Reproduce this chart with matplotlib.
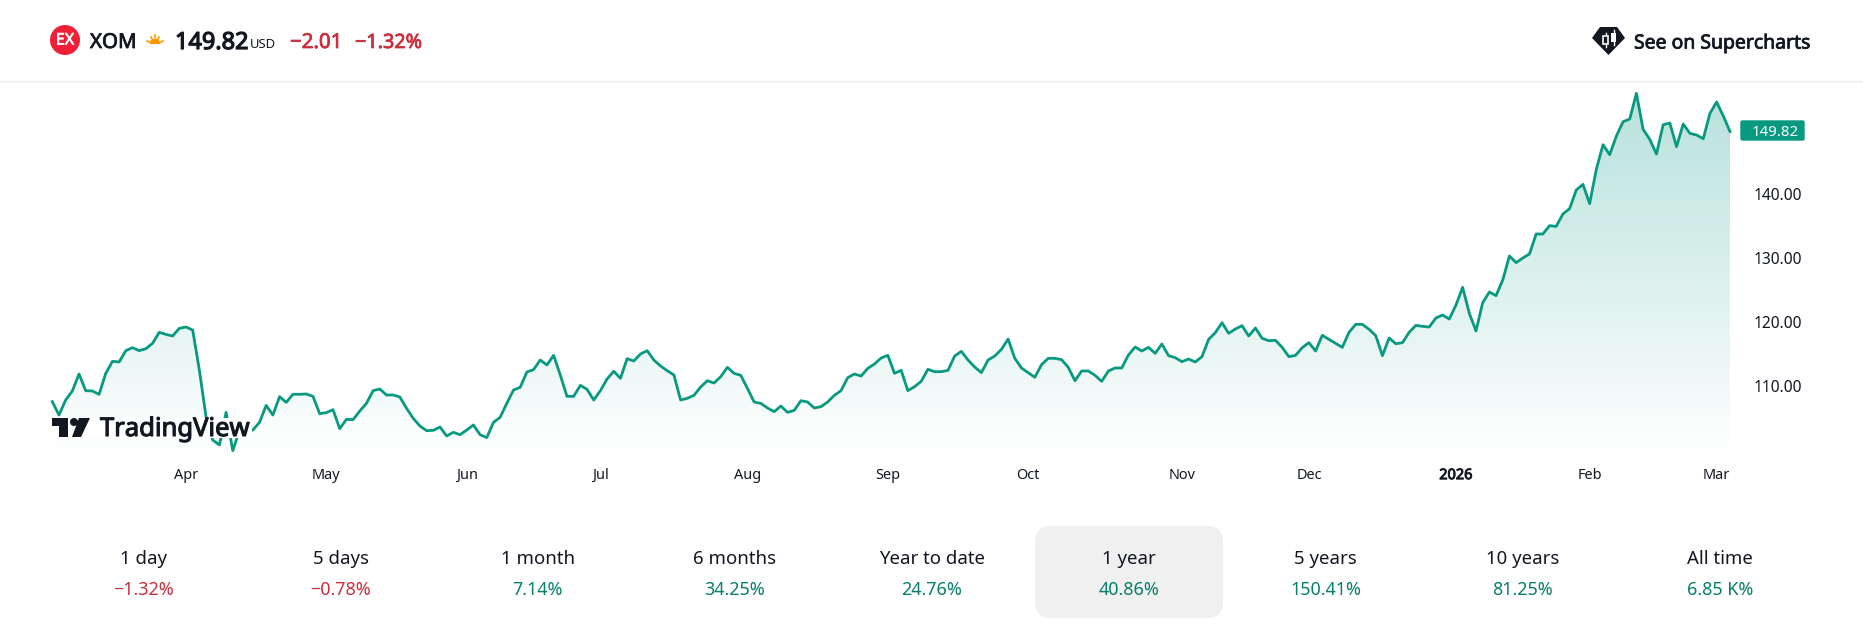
import numpy as np
import matplotlib
matplotlib.use("Agg")
import matplotlib.pyplot as plt
import matplotlib.patheffects as pe
from matplotlib.patches import FancyBboxPatch, Circle, Polygon, Rectangle, Wedge

plt.rcParams['font.family'] = ['Noto Sans', 'DejaVu Sans']

prices = [
 107.55,105.46,107.81,109.22,111.88,109.27,109.22,108.70,111.98,113.86,
 113.76,115.53,116.00,115.53,115.84,116.68,118.40,118.08,117.82,119.02,
 119.23,118.76,112.50,105.20,101.55,100.77,105.88,99.88,103.01,102.80,
 103.11,104.31,106.97,105.46,108.33,107.44,108.70,108.70,108.75,108.38,
 105.67,105.83,106.30,103.32,104.78,104.73,106.09,107.29,109.27,109.53,
 108.59,108.60,
 108.28,106.51,104.94,103.74,103.01,103.06,103.58,102.18,102.75,102.38,
 103.11,103.90,102.38,101.92,104.31,105.10,107.29,109.37,109.79,112.19,
 112.56,114.07,113.29,114.80,111.72,108.38,108.38,110.10,109.48,107.81,
 109.27,111.10,112.30,111.20,114.28,113.91,115.01,115.53,114.07,113.13,
 112.40,111.72,107.81,108.07,108.54,109.84,110.83,110.47,111.46,112.92,
 111.98,111.67,109.63,107.50,107.29,106.56,105.98,106.87,105.88,106.19,
 107.70,107.50,106.56,106.77,107.50,108.54,109.27,111.30,111.88,111.56,
 112.76,113.44,114.38,114.80,111.98,112.45,109.27,109.90,110.73,112.61,
 112.24,112.24,112.45,114.69,115.42,114.07,112.97,112.09,114.07,114.69,
 115.74,117.35,114.33,112.82,112.09,111.36,113.34,114.33,114.33,114.12,
 112.92,
 110.83,112.35,112.35,111.67,110.73,112.35,112.82,112.82,114.85,116.10,
 115.48,116.05,115.11,116.57,114.75,114.43,113.81,114.22,113.76,114.59,
 117.30,118.35,119.91,118.24,118.92,119.44,117.82,119.08,117.46,117.09,
 117.15,116.05,114.59,114.80,116.00,116.78,115.48,117.93,117.30,116.68,
 116.05,118.40,119.65,119.65,118.87,117.88,114.75,117.51,116.62,116.78,
 118.40,
 119.49,119.34,119.23,120.64,121.11,120.48,122.67,125.44,121.37,118.61,
 123.04,124.71,124.14,126.59,130.34,129.30,130.03,130.66,133.79,133.79,
 135.09,134.98,136.91,137.75,140.67,141.56,138.53,143.90,147.76,146.20,
 149.12,151.36,151.78,155.80,150.16,148.60,146.30,150.89,151.15,147.45,
 151.00,149.54,149.28,148.70,152.67,154.44,152.25,149.82,
]
month_idx = [20, 41, 62, 82, 104, 125, 146, 169, 188, 210, 230, 249]
month_labels = ['Apr', 'May', 'Jun', 'Jul', 'Aug', 'Sep', 'Oct', 'Nov', 'Dec', '2026', 'Feb', 'Mar']
price_ticks = [110, 120, 130, 140]
period_labels = ['1 day', '5 days', '1 month', '6 months', 'Year to date', '1 year', '5 years', '10 years', 'All time']
period_values = ['−1.32%', '−0.78%', '7.14%', '34.25%', '24.76%', '40.86%', '150.41%', '81.25%', '6.85 K%']

W, H = 1863, 627
GREEN = '#089981'
RED = '#CC2F3C'
DARKGREEN = '#077F6B'
INK = '#131722'
px = 0.72  # px to pt at dpi 100

def heavy(color, w=0.55):
    return [pe.withStroke(linewidth=w, foreground=color)]

fig = plt.figure(figsize=(W / 100, H / 100), dpi=100, facecolor='white')

def axes_px(x0, y0, x1, y1):
    return fig.add_axes([x0 / W, 1 - y1 / H, (x1 - x0) / W, (y1 - y0) / H])

# ---- chart
ax = axes_px(52.3, 81, 1730, 457)
ax.patch.set_alpha(0)
x = np.arange(len(prices))
y = np.array(prices)
ymin, ymax = 98.89, 157.73
grad = np.zeros((256, 2, 4))
grad[..., 0] = 8 / 255; grad[..., 1] = 153 / 255; grad[..., 2] = 129 / 255
grad[..., 3] = np.linspace(0.30, 0, 256)[:, None]
im = ax.imshow(grad, extent=[x[0], x[-1], ymin, ymax], aspect='auto', origin='upper', zorder=1)
poly = ax.fill_between(x, y, ymin, facecolor='none', edgecolor='none')
im.set_clip_path(poly.get_paths()[0], transform=ax.transData)
ax.plot(x, y, color=GREEN, lw=2.0, solid_joinstyle='round', zorder=2, clip_on=False)
ax.set_xlim(x[0], x[-1]); ax.set_ylim(ymin, ymax)
for s in ax.spines.values():
    s.set_visible(False)
ax.set_xticks(month_idx, month_labels)
ax.yaxis.tick_right()
ax.set_yticks(price_ticks, [f'{v:.2f}' for v in price_ticks])
ax.tick_params(axis='x', length=0, labelsize=14.5 * px, labelcolor=INK, pad=8)
ax.tick_params(axis='y', length=0, labelsize=15.5 * px, labelcolor=INK, pad=17)
for lab in ax.get_yticklabels():
    lab.set_verticalalignment('center_baseline')
for lab, t in zip(ax.get_xticklabels(), month_labels):
    if t == '2026':
        lab.set_fontweight('bold')
        lab.set_path_effects(heavy(INK, 0.7))

# ---- overlay
ov = fig.add_axes([0, 0, 1, 1], zorder=5)
ov.set_xlim(0, W); ov.set_ylim(H, 0); ov.axis('off'); ov.patch.set_alpha(0)

# divider
ov.plot([0, W], [80.5, 80.5], color='#EBEBEB', lw=1.0)

# last price tag
ov.add_patch(FancyBboxPatch((1741, 121), 63, 19, boxstyle='round,pad=0,rounding_size=1.5',
                            fc=GREEN, ec=GREEN, lw=1))
ov.text(1775.5, 130.5, f'{prices[-1]:.2f}', color='white', fontsize=15 * px, ha='center', va='center_baseline')

# header, left
ov.add_patch(Circle((65, 40), 15, fc='#F01E36', ec='none'))
ov.text(65, 40.5, 'EX', color='white', fontsize=16 * px, ha='center', va='center',
        path_effects=heavy('white', 0.5))
ov.text(90, 43, 'XOM', color=INK, fontsize=20.5 * px, ha='left', va='center', path_effects=heavy(INK))
ov.add_patch(Wedge((155, 44), 5.5, 180, 360, fc='#FF9800', ec='none'))
for dx0, dy0, dx1, dy1 in [(-8, -3, -6, -2), (8, -3, 6, -2), (-4, -7, -3, -5), (4, -7, 3, -5), (0, -9, 0, -7)]:
    ov.plot([155 + dx0, 155 + dx1], [44 + dy0, 44 + dy1], color='#FF9800', lw=1.2)
ov.text(175, 43, '149.82', color=INK, fontsize=23.5 * px, ha='left', va='center', path_effects=heavy(INK, 0.9))
ov.text(250, 45, 'USD', color=INK, fontsize=13 * px, ha='left', va='center')
ov.text(290, 43, '−2.01', color=RED, fontsize=20.5 * px, ha='left', va='center', path_effects=heavy(RED))
ov.text(355, 43, '−1.32%', color=RED, fontsize=19.8 * px, ha='left', va='center', path_effects=heavy(RED))

# header, right
ov.add_patch(Polygon([(1600, 27), (1617, 27), (1625, 38), (1608.5, 55), (1592, 38)], fc=INK, ec='none'))
ov.plot([1605.5, 1605.5], [33, 47], color='white', lw=1.0)
ov.add_patch(Rectangle((1603, 36), 5, 8, fc=INK, ec='white', lw=1.2, zorder=3))
ov.plot([1613.5, 1613.5], [30, 45], color='white', lw=1.0)
ov.add_patch(Rectangle((1611, 33), 5, 9, fc='white', ec='none', zorder=3))
ov.text(1634, 43.5, 'See on Supercharts', color=INK, fontsize=19.4 * px, ha='left', va='center',
        path_effects=heavy(INK))

# watermark logo
ov.add_patch(Rectangle((50, 417.5), 202, 20.5, fc='white', ec='none', zorder=6))
for art in [Polygon([(52, 418), (68, 418), (68, 437), (59, 437), (59, 426), (52, 426)], fc=INK, ec='none', zorder=7),
            Circle((74, 422), 4, fc=INK, ec='none', zorder=7),
            Polygon([(79, 418), (90, 418), (81, 437), (72, 437)], fc=INK, ec='none', zorder=7)]:
    ov.add_patch(art)
ov.text(100, 429.5, 'TradingView', color=INK, fontsize=25.6 * px, ha='left', va='center',
        path_effects=heavy(INK, 0.8), zorder=7)

# period row
ov.add_patch(FancyBboxPatch((1035, 526), 188, 92, boxstyle='round,pad=0,rounding_size=16',
                            fc='#F0F0F0', ec='none', zorder=1))
centers = np.linspace(143.5, 1720, len(period_labels))
for c, lab, val in zip(centers, period_labels, period_values):
    ov.text(c, 559, lab, color=INK, fontsize=18.6 * px, ha='center', va='center', zorder=3)
    ov.text(c, 590, val, color=RED if val.startswith('−') else DARKGREEN,
            fontsize=18 * px, ha='center', va='center', zorder=3)

fig.savefig('out.png', dpi=100, facecolor='white')
